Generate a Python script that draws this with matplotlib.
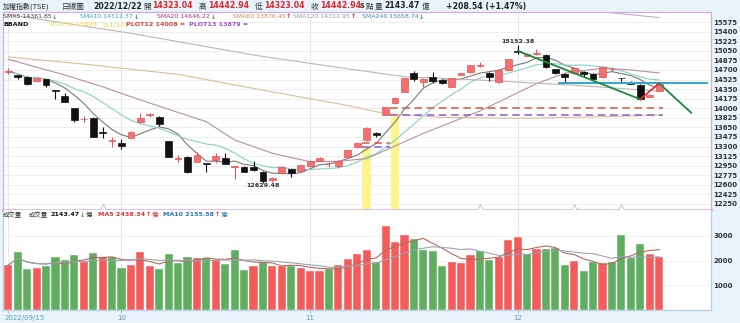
import numpy as np
import pandas as pd
import matplotlib
matplotlib.use("Agg")
import matplotlib.pyplot as plt
import matplotlib.transforms as mtransforms

plt.rcParams['font.family'] = ['DejaVu Sans', 'Noto Sans CJK TC']

# ---------------------------------------------------------------------------
# 資料 (2022/09/15 ~ 2022/12/22, 70 個交易日)
# ---------------------------------------------------------------------------
opens = [14660, 14610, 14580, 14490, 14530, 14330, 14230, 14000, 13795, 13830,
         13560, 13410, 13360, 13460, 13740, 13880, 13845, 13405, 13075, 13110,
         13025, 12985, 13055, 13095, 12920, 12930, 12920, 12840, 12680, 12810,
         12885, 12855, 12945, 13040, 12990, 12945, 13115, 13285, 13420, 13555,
         13876, 14090, 14305, 14640, 14488, 14578, 14518, 14395, 14610, 14657,
         14780, 14650, 14486, 14700, 15050, 14955, 14988, 14975, 14712, 14635,
         14640, 14670, 14626, 14565, 14712, 14550, 14486, 14425, 14212, 14323.04]
highs = [14730, 14615, 14590, 14560, 14540, 14335, 14285, 14005, 13860, 13840,
         13650, 13470, 13435, 13580, 13905, 13910, 13850, 13410, 13145, 13120,
         13205, 12990, 13175, 13175, 12950, 12940, 13030, 12850, 12740, 12940,
         12895, 12965, 13050, 13110, 13020, 13045, 13245, 13370, 13650, 13570,
         14025, 14200, 14560, 14687, 14545, 14670, 14530, 14555, 14650, 14800,
         14840, 14660, 14710, 14905, 15152.38, 15010, 15077, 14990, 14720, 14645,
         14740, 14680, 14640, 14760, 14750, 14560, 14495, 14440, 14250, 14442.94]
lows = [14626, 14530, 14430, 14480, 14395, 14165, 14110, 13755, 13755, 13475,
        13450, 13285, 13250, 13455, 13735, 13845, 13675, 13110, 13020, 12815,
        13020, 12825, 12995, 12975, 12700, 12830, 12860, 12629.48, 12660, 12800,
        12740, 12830, 12930, 13030, 12920, 12900, 13100, 13275, 13410, 13470,
        13870, 14080, 14290, 14505, 14395, 14455, 14440, 14385, 14600, 14650,
        14760, 14505, 14460, 14690, 15000, 14950, 14980, 14740, 14630, 14470,
        14630, 14578, 14520, 14560, 14690, 14468, 14435, 14150, 14200, 14323.04]
closes = [14675, 14580, 14440, 14545, 14425, 14320, 14120, 13785, 13810, 13480,
          13550, 13425, 13310, 13570, 13815, 13900, 13710, 13115, 13090, 12825,
          13145, 12978, 13125, 12980, 12945, 12840, 12870, 12675, 12730, 12930,
          12810, 12955, 13040, 13095, 13000, 13035, 13235, 13358, 13645, 13510,
          14015, 14193, 14555, 14540, 14530, 14505, 14458, 14547, 14638, 14790,
          14785, 14578, 14700, 14895, 15025, 14990, 14998, 14748, 14640, 14565,
          14730, 14620, 14530, 14748, 14722, 14545, 14443, 14165, 14240, 14442.94]
volumes = [1822, 2363, 1647, 1688, 1795, 2133, 2025, 2228, 1944, 2295,
           2160, 2133, 1701, 1836, 2363, 1782, 1647, 2282, 1904, 2147,
           2120, 2106, 2025, 1863, 2417, 1620, 1795, 1931, 1782, 1782,
           1782, 1715, 1580, 1580, 1660, 1809, 2079, 2268, 2430, 1944,
           3402, 2768, 3038, 2862, 2430, 2390, 1795, 1944, 1890, 2228,
           2403, 2025, 2160, 2835, 2943, 2268, 2457, 2471, 2498, 1822,
           1985, 1580, 1931, 1917, 1958, 3038, 2120, 2673, 2255, 2143.47]

# 長天期均線
sma20_idx = [0, 6, 10, 13, 17, 21, 24, 28, 32, 35, 38, 44, 50, 53, 56, 59, 63, 66, 69]
sma20_val = [14895, 14608, 14394, 14211, 13980, 13754, 13419, 13176, 13022, 13030,
             13080, 13540, 13950, 14200, 14450, 14640, 14735, 14700, 14646]
sma60_idx = [0, 9, 18, 27, 36, 40, 46, 54, 62, 69]
sma60_val = [14940, 14790, 14620, 14330, 14050, 13900, 13834, 13816, 13840, 13876]
sma120_idx = [0, 5, 13, 26, 34, 42, 50, 60, 69]
sma120_val = [15715, 15583, 15371, 14974, 14770, 14577, 14517, 14420, 14313]
sma240_idx = [58, 64, 69]
sma240_val = [15850, 15745, 15659]

# 趨勢線 / 水平線 / 缺口虛線
trend_green1 = ([54, 67], [15050, 14165])
trend_red = ([67, 69], [14165, 14456])
trend_green2 = ([69, 72.4], [14456, 13918])
blue_level = 14467
gap_bars = [38, 41]
gap_ends = [40.5, 69.4]
gap_upper = [13359, 14008]
gap_lower = [13297, 13879]
caret_idx = [10, 50, 60, 65]

month_idx = [0, 12, 32, 54]
month_labels = ["2022/09/15", "10", "11", "12"]
price_ticks = list(range(12250, 15576, 175))
vol_ticks = [1000, 2000, 3000]

# ---------------------------------------------------------------------------
W, H = 740, 323
fig = plt.figure(figsize=(7.4, 3.23), dpi=100, facecolor='#e8f3fb')
renderer = fig.canvas.get_renderer()


def fx(x):
    return x / W


def fy(y):
    return 1 - y / H


ax = fig.add_axes([fx(3), fy(210), fx(711) - fx(3), fy(12.3) - fy(210)])
axv = fig.add_axes([fx(3), fy(310), fx(711) - fx(3), fy(210) - fy(310)])

x = np.arange(len(closes))
o = np.array(opens); h = np.array(highs); l = np.array(lows); c = np.array(closes)
up = c >= o

RED = '#f47070'
RED_EDGE = '#e35656'
BLACK = '#111111'

# 網格
for a in (ax, axv):
    a.set_xlim(-0.56, 74.5)
    a.set_facecolor('white')
    for m in month_idx:
        a.axvline(m, color='#e6e6e6', lw=0.7, zorder=0)

ax.set_ylim(12139, 15755)
ax.set_yticks(price_ticks)
ax.grid(axis='y', color='#ececec', lw=0.6, zorder=0)
ax.set_axisbelow(True)

# 缺口黃色柱
for b, top in zip(gap_bars, gap_lower):
    ax.bar(b, top - 12139, bottom=12139, width=0.95, color='#fbf58c', zorder=1)

# 均線
s = pd.Series(c)
ax.plot(x, s.rolling(5, min_periods=1).mean(), color='#7a7a7a', lw=0.8, zorder=2)
ax.plot(x, s.rolling(10, min_periods=1).mean(), color='#86d0c6', lw=0.8, zorder=2)
ax.plot(sma20_idx, sma20_val, color='#b8909f', lw=0.8, zorder=2)
ax.plot(sma60_idx, sma60_val, color='#d9bf9f', lw=0.8, zorder=2)
ax.plot(sma120_idx, sma120_val, color='#bdb6b0', lw=0.8, zorder=2)
ax.plot(sma240_idx, sma240_val, color='#c2aac8', lw=0.8, zorder=2)

# 缺口虛線
start = gap_bars[0] - 0.5
for i in range(len(gap_ends)):
    xs = [start if i == 0 else gap_ends[i - 1], gap_ends[i]]
    ax.plot(xs, [gap_upper[i]] * 2, color='#d9534f', lw=1.1, ls=(0, (5, 3)), zorder=2.5)
    ax.plot(xs, [gap_lower[i]] * 2, color='#8e5cc4', lw=1.1, ls=(0, (5, 3)), zorder=2.5)

# K 線
wick_colors = np.where(up, RED_EDGE, BLACK)
ax.vlines(x, l, h, colors=wick_colors, lw=0.8, zorder=3)
body = np.maximum(np.abs(c - o), 14)
ax.bar(x, body, bottom=np.minimum(o, c), width=0.72,
       color=np.where(up, RED, BLACK), edgecolor=np.where(up, RED_EDGE, BLACK),
       linewidth=0.5, zorder=3.5)

# 趨勢線
ax.plot(*trend_green1, color='#1b8a3c', lw=1.3, zorder=5)
ax.plot(*trend_red, color='#e8302a', lw=1.3, zorder=5)
ax.plot(*trend_green2, color='#1b8a3c', lw=1.3, zorder=5)
ax.hlines(blue_level, 58.3, 74.2, color='#3ba3d0', lw=1.5, zorder=4)

ax.plot(caret_idx, [12185] * len(caret_idx), ls='none', marker='^', ms=4,
        mfc='white', mec='#c8b6d6', mew=0.6, zorder=4)

# 高低點標示
ax.text(54, 15215, '15152.38', ha='center', va='center', fontsize=4.6,
        fontweight='bold', color='#333')
ax.text(27, 12578, '12629.48', ha='center', va='center', fontsize=4.6,
        fontweight='bold', color='#333')

ax.yaxis.tick_right()
ax.tick_params(axis='y', length=0, pad=1.5, labelsize=5, labelcolor='#333')
for lab in ax.get_yticklabels():
    lab.set_fontweight('bold')
ax.set_xticks([])
for sp in ax.spines.values():
    sp.set_color('#d2aede')
    sp.set_linewidth(0.9)
ax.spines['bottom'].set_linewidth(1.8)

# 成交量
vol = np.array(volumes)
vol_up = np.diff(c, prepend=c[0] - 1) >= 0
axv.bar(x, vol, width=0.86, color=np.where(vol_up, '#f45c5c', '#5fae5f'),
        edgecolor='white', linewidth=0.3, zorder=2)
vs = pd.Series(vol)
axv.plot(x, vs.rolling(5, min_periods=1).mean(), color='#b56a5e', lw=0.8, zorder=3)
axv.plot(x, vs.rolling(10, min_periods=1).mean(), color='#97a6b0', lw=0.8, zorder=3)
axv.set_ylim(0, 4050)
axv.set_yticks(vol_ticks)
axv.grid(axis='y', color='#f0f0f0', lw=0.6, zorder=0)
axv.set_axisbelow(True)
axv.yaxis.tick_right()
axv.tick_params(axis='y', length=0, pad=1.5, labelsize=5, labelcolor='#333')
for lab in axv.get_yticklabels():
    lab.set_fontweight('bold')
axv.set_xticks(month_idx)
axv.tick_params(axis='x', length=2, color='#9cc4dc', labelbottom=False)
for sp in axv.spines.values():
    sp.set_color('#b5cfe2')
    sp.set_linewidth(0.9)
axv.spines['top'].set_visible(False)

trans = mtransforms.blended_transform_factory(axv.transData, axv.transAxes)
for m, lab in zip(month_idx, month_labels):
    if m == 0:
        axv.text(-0.45, -0.08, lab, transform=trans, ha='left', va='center',
                 fontsize=5, color='#5b9ccb')
    else:
        axv.text(m, -0.08, lab, transform=trans, ha='center', va='center',
                 fontsize=5, color='#5b9ccb')


# ---------------------------------------------------------------------------
# 標頭文字
# ---------------------------------------------------------------------------
def put(px, py, txt, color='#333', size=4.6, weight='normal'):
    return fig.text(fx(px), fy(py), txt, color=color, fontsize=size,
                    fontweight=weight, ha='left', va='center')


def chain(px, py, parts):
    """依序排列文字, 每段接在前一段的右邊."""
    for txt, color, size, weight, gap in parts:
        t = put(px, py, txt, color, size, weight)
        px = t.get_window_extent(renderer).x1 + gap
    return px


row1 = 6
put(3, row1, '加權指數(TSE)', size=5)
put(62, row1, '日線圖', size=5.5)
put(93, row1, '2022/12/22', '#222', 5.6, 'bold')
for px, lab, val in [(143, '開', '14323.04'), (199, '高', '14442.94'),
                     (255, '低', '14323.04'), (311, '收', '14442.94')]:
    chain(px, row1, [(lab, '#333', 5.5, 'normal', 1.5),
                     (val, '#e02424', 5.6, 'bold', 0)])
chain(360, row1, [('s', '#333', 5.5, 'bold', 1), ('點', '#333', 5.5, 'normal', 0)])
chain(375, row1, [('量', '#333', 5.5, 'normal', 2),
                  ('2143.47', '#222', 5.6, 'bold', 2),
                  ('億', '#333', 5.5, 'normal', 0)])
put(446, row1, '+208.54 (+1.47%)', '#222', 5.6, 'bold')

row2 = 17
legend2 = [(3, 'SMA5 14361.85', '#444', '↓', '#2a9a3a'),
           (80, 'SMA10 14512.37', '#3aa9b3', '↓', '#2a9a3a'),
           (157, 'SMA20 14646.22', '#b3307d', '↓', '#2a9a3a'),
           (233, 'SMA60 13876.45', '#cf8b4a', '↑', '#e02424'),
           (293, 'SMA120 14312.95', '#999999', '↑', '#e02424'),
           (362, 'SMA240 15658.74', '#3a8fb2', '↓', '#2a9a3a')]
for px, txt, col, arr, acol in legend2:
    chain(px, row2, [(txt, col, 4.5, 'normal', 0.5), (arr, acol, 4.5, 'bold', 0)])

row3 = 25
put(3, row3, 'BBAND', '#111', 4.6, 'bold')
chain(50, row3, [('PLOT6 13896', '#efe57a', 4.6, 'bold', 5),
                 ('[11/14]', '#efe57a', 4.6, 'bold', 0)])
put(126, row3, 'PLOT12 14008 =', '#e0403a', 4.6, 'bold')
put(189, row3, 'PLOT13 13879 =', '#9b4fd0', 4.6, 'bold')

rowv = 215
put(3, rowv, '成交量', '#333', 4.6)
chain(29, rowv, [('成交量', '#333', 4.6, 'normal', 2),
                 ('2143.47', '#111', 4.6, 'bold', 0.5),
                 ('↓', '#2a9a3a', 4.6, 'bold', 0.5),
                 ('億', '#333', 4.6, 'normal', 0)])
chain(98, rowv, [('MA5 2438.34', '#e03030', 4.6, 'bold', 0.5),
                 ('↑', '#e03030', 4.6, 'bold', 0.5),
                 ('億', '#e03030', 4.6, 'normal', 0)])
chain(163, rowv, [('MA10 2155.58', '#2a78b0', 4.6, 'bold', 0.5),
                  ('↑', '#e03030', 4.6, 'bold', 0.5),
                  ('億', '#2a78b0', 4.6, 'normal', 0)])

fig.savefig('out.png', dpi=100, facecolor=fig.get_facecolor())
